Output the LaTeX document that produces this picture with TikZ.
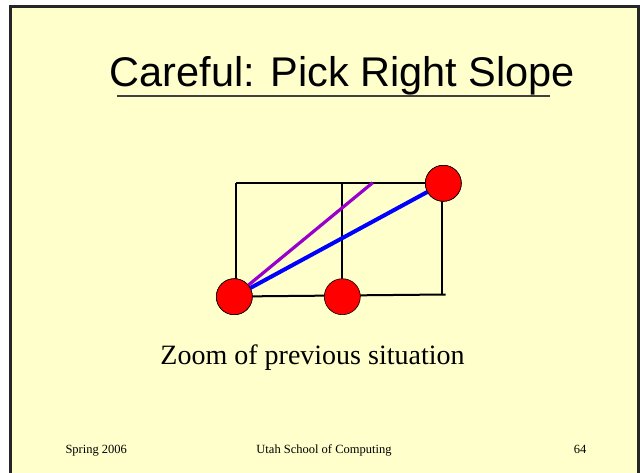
\documentclass[tikz,border=0pt]{standalone}
\usepackage{fontspec}
\setmainfont{Liberation Serif}
\newfontfamily\titlefont{Liberation Sans}
\usetikzlibrary{positioning}
\definecolor{slidebg}{HTML}{FFFFCC}
\definecolor{slopepurple}{HTML}{9900CC}
\begin{document}
\begin{tikzpicture}[x=1pt,y=-1pt,
  gridline/.style={draw=black,line width=2pt},
  dot/.style={circle,draw=black,line width=0.6pt,fill=red,minimum size=36pt,inner sep=0pt},
  slope/.style={line width=3.2pt},
  foot/.style={font=\fontsize{12.5}{15}\selectfont,anchor=base}
]
\useasboundingbox (0,0) rectangle (640,473);
\clip (0,0) rectangle (640,473);
% slide frame
\draw[line width=3pt,fill=slidebg,draw=black!85] (10.5,6.5) rectangle (638.5,490);
% title
\node[font=\titlefont\fontsize{41.5}{46}\selectfont,anchor=base] (title) at (342.5,87)
  {Careful: Pick Right Slope};
\draw[line width=2pt,draw=black!75] (117,96) -- (550,96);
% grid
\coordinate (tl) at (236,183);
\coordinate (tm) at (342.3,183);
\coordinate (tr) at (443,183);
\coordinate (bl) at (236,296.5);
\coordinate (bm) at (342.3,296);
\coordinate (br) at (445.7,294.5);
\coordinate (rt) at (441.7,183);
\coordinate (rb) at (441.7,294.5);
\coordinate (hit) at (372.7,182.7);
\draw[gridline] (tl) -- (tr);
\draw[gridline] (tl) -- (bl);
\draw[gridline] (tm) -- (bm);
\draw[gridline] (rt) -- (rb);
\draw[gridline] (bl) -- (br);
% points
\node[dot] (p1) at (234.3,296.7) {};
\node[dot] (p2) at (342.3,296.7) {};
\node[dot] (p3) at (443.3,183.3) {};
% slopes
\draw[slope,slopepurple] (p1.center) -- (hit);
\draw[slope,blue,line width=4pt] (p1.center) -- (p3.center);
\node[dot] at (p1) {};
\node[dot] at (p3) {};
% caption
\node[font=\fontsize{28}{32}\selectfont,anchor=base] (caption) at (312.5,364)
  {Zoom of previous situation};
% footer
\node[foot,anchor=base west] (season) at (62,453) {Spring 2006};
\node[foot] (school) at (324,453) {Utah School of Computing};
\node[foot] (page) at (580,453) {64};
\end{tikzpicture}
\end{document}
